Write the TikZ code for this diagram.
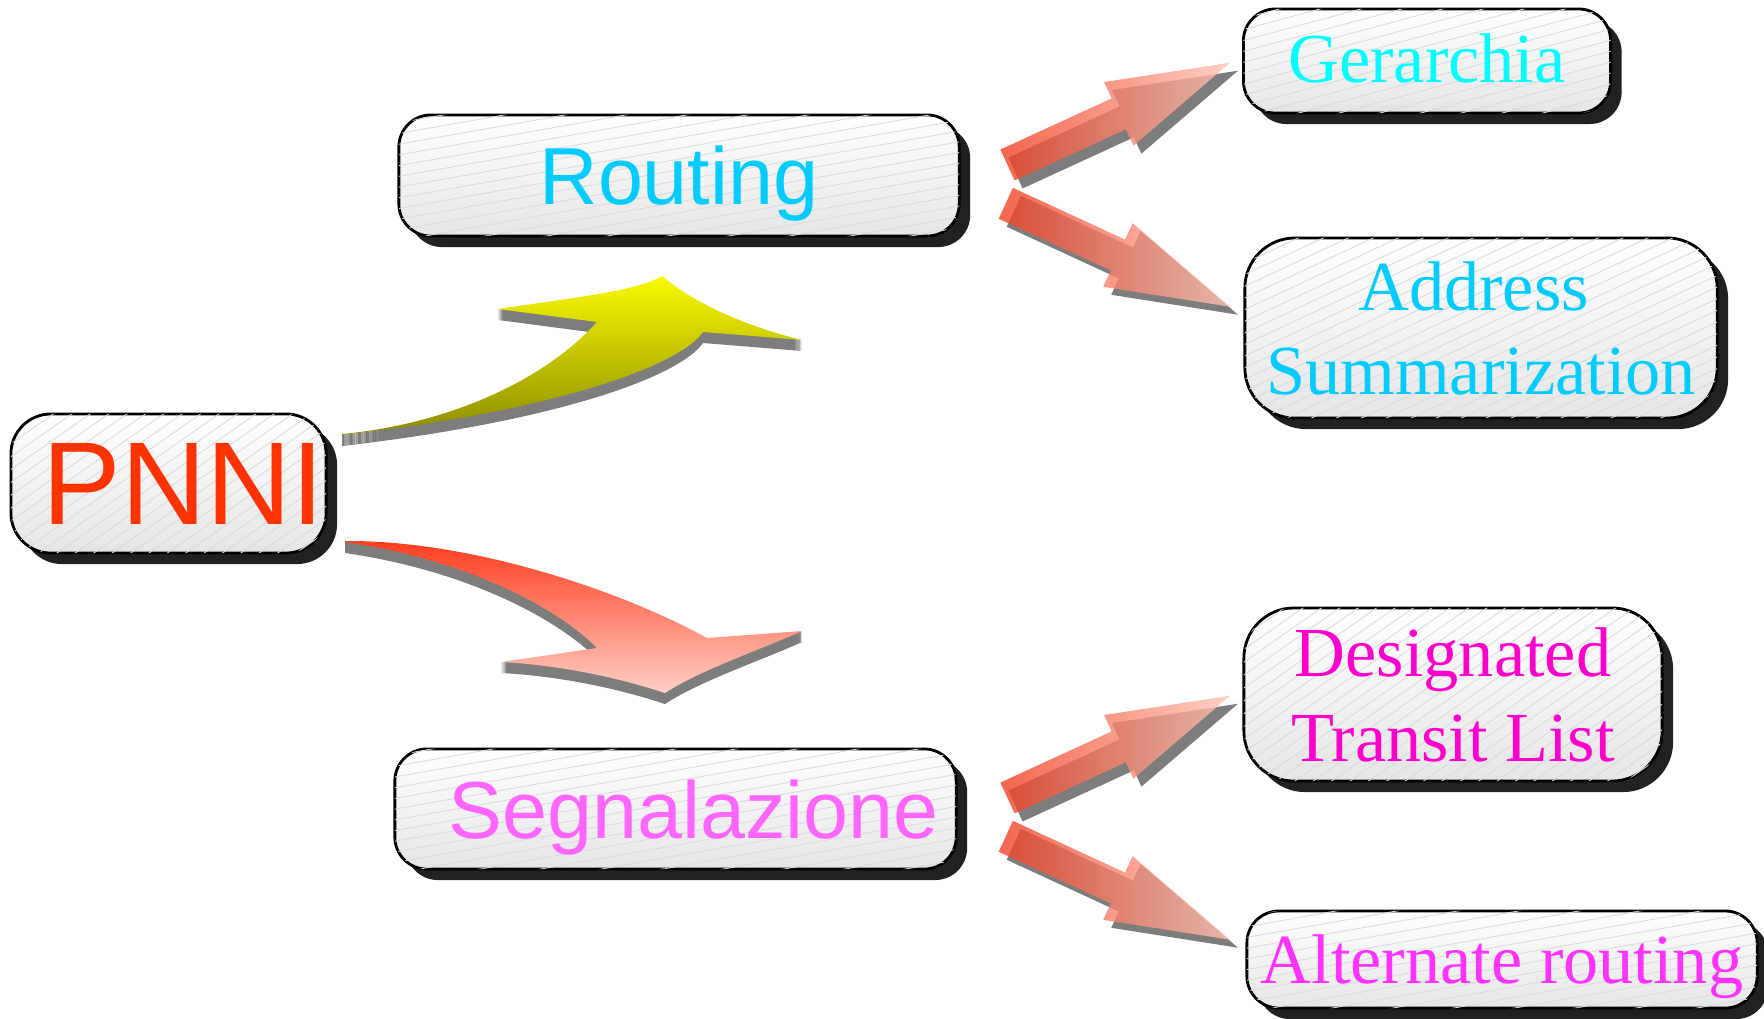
\documentclass[tikz,border=0pt]{standalone}
\usepackage{fontspec}
\setmainfont{Liberation Serif}
\newfontfamily\arialfont{Liberation Sans}
\usetikzlibrary{calc, shadows, patterns.meta}

\definecolor{pnnired}{HTML}{FF3300}
\definecolor{routeblue}{HTML}{00CCFF}
\definecolor{gercyan}{HTML}{00FFFF}
\definecolor{segpink}{HTML}{FF66FF}
\definecolor{dtlmagenta}{HTML}{FF00CC}
\definecolor{altpink}{HTML}{FF33FF}
\definecolor{arrowred}{RGB}{240,64,36}
\definecolor{arrowpink}{RGB}{255,196,182}
\definecolor{sidegray}{RGB}{125,125,125}
\definecolor{yellowtop}{RGB}{250,250,0}
\definecolor{yellowdark}{RGB}{140,140,0}
\definecolor{curvered}{RGB}{255,60,30}
\definecolor{curvepink}{RGB}{255,208,198}

% outline of a straight block arrow from #1 (tail) to #2 (tip)
\newcommand{\arrowoutline}[2]{($(#1)!0.17cm!90:(#2)$) -- ($(#1hb)!0.17cm!90:(#2)$) -- ($(#1hb)!0.35cm!90:(#2)$) -- (#2) -- ($(#1hb)!0.35cm!-90:(#2)$) -- ($(#1hb)!0.17cm!-90:(#2)$) -- ($(#1)!0.17cm!-90:(#2)$) -- cycle}
\newcommand{\blockarrow}[2]{%
  \coordinate (#1hb) at ($(#1)!0.5!(#2)$);
  \begin{scope}[transform canvas={shift={(0.08cm,-0.08cm)}}]
    \fill[arrowside] \arrowoutline{#1}{#2};
  \end{scope}
  \shade[arrowbody] \arrowoutline{#1}{#2};
}

\def\yellowoutline{(342,434) .. controls (440,425) and (540,385) .. (597,322) -- (498,309) .. controls (580,297) and (640,290) .. (662,276) .. controls (690,300) and (740,325) .. (802,340) -- (703,332) .. controls (680,365) and (560,410) .. (342,435) -- cycle}
\def\redoutline{(345,541) .. controls (470,540) and (620,590) .. (707,638) -- (802,631) .. controls (760,650) and (700,670) .. (665,693) .. controls (620,678) and (560,665) .. (501,662) -- (597,648) .. controls (560,610) and (470,560) .. (345,542) -- cycle}

\begin{document}
\begin{tikzpicture}[x=0.01cm, y=-0.01cm,
    card/.style={draw, line width=0.8pt, rounded corners=0.32cm, top color=white, bottom color=black!10,
      drop shadow={shadow xshift=0.11cm, shadow yshift=-0.11cm, fill=black!87, opacity=1},
      postaction={pattern={Lines[angle=#1, distance=3pt, line width=0.25pt]}, pattern color=black!14},
      align=center, text depth=0pt, inner sep=0pt},
    card/.default=20,
    sansbig/.style={font=\arialfont\fontsize{23}{27}\selectfont},
    serifbig/.style={font=\fontsize{20}{24}\selectfont},
    arrowbody/.style={left color=arrowred, right color=arrowpink, fill opacity=0.8},
    arrowside/.style={fill=sidegray}]
  \useasboundingbox (0,0) rectangle (1764,1018);

  % boxes
  \node[card=35, rounded corners=0.4cm, minimum width=3.15cm, minimum height=1.39cm, text=pnnired,
        font=\arialfont\fontsize{33.5}{37}\selectfont] (pnni) at (168.5,483.5) {\hspace*{0.3cm}PNNI};
  \node[card=10, sansbig, minimum width=5.6cm, minimum height=1.21cm, text=routeblue] (routing) at (679,175.5) {Routing};
  \node[card=10, sansbig, minimum width=5.61cm, minimum height=1.2cm, text=segpink] (segn) at (675.5,809) {\hspace*{0.36cm}Segnalazione};
  \node[card=15, serifbig, minimum width=3.67cm, minimum height=1.04cm, text=gercyan] (gerarchia) at (1427,61) {\raisebox{0.05cm}{Gerarchia}};
  \node[card=25, serifbig, rounded corners=0.5cm, minimum width=4.72cm, minimum height=1.8cm, text=routeblue] (address) at (1481,328) {\hspace*{-0.15cm}Address\\Summarization};
  \node[card=35, serifbig, rounded corners=0.5cm, minimum width=4.18cm, minimum height=1.73cm, text=dtlmagenta] (dtl) at (1453,694.5) {Designated\\Transit List};
  \node[card=10, font=\fontsize{20}{24}\selectfont, minimum width=5.1cm, minimum height=0.97cm, text=altpink] (altern) at (1502,959.5) {Alternate routing};

  % curved arrows out of PNNI
  \foreach \d in {1,...,11} \fill[sidegray, shift={(0,\d)}] \yellowoutline;
  \shade[top color=yellowtop, bottom color=yellowdark] \yellowoutline;
  \foreach \d in {1,...,11} \fill[sidegray, shift={(0,\d)}] \redoutline;
  \shade[top color=curvered, bottom color=curvepink] \redoutline;

  % straight arrows
  \coordinate (rout1) at (1007.5,165);  \coordinate (gerTip) at (1230,62.7);
  \coordinate (rout2) at (1005.8,203.3); \coordinate (addrTip) at (1230,306.7);
  \coordinate (segn1) at (1007.5,798);  \coordinate (dtlTip) at (1230,695.7);
  \coordinate (segn2) at (1005.8,836.3); \coordinate (altTip) at (1230,939.7);
  \blockarrow{rout1}{gerTip}
  \blockarrow{rout2}{addrTip}
  \blockarrow{segn1}{dtlTip}
  \blockarrow{segn2}{altTip}
\end{tikzpicture}
\end{document}
